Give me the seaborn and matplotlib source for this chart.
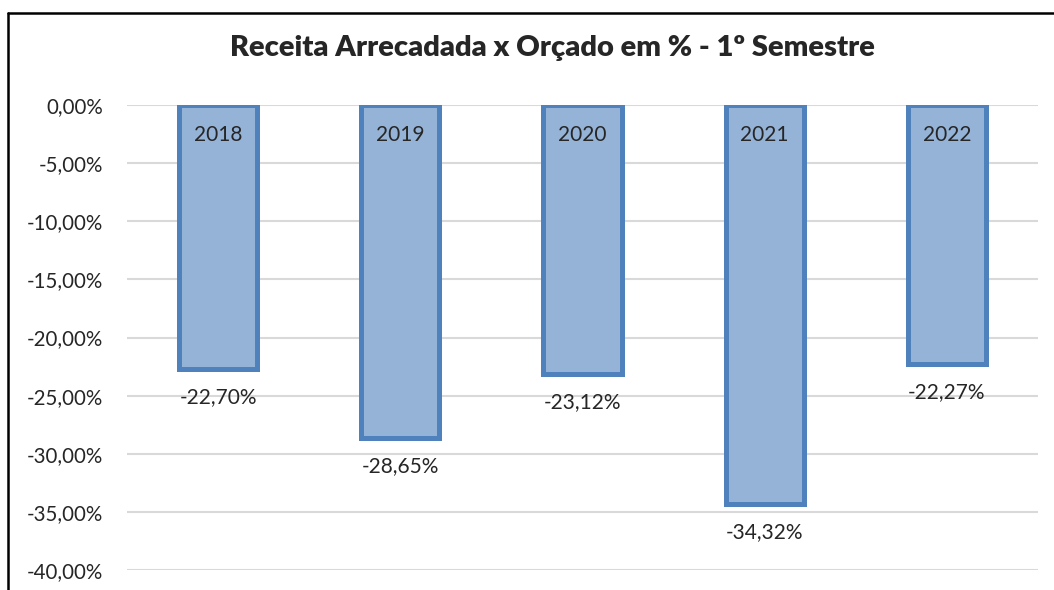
import matplotlib
matplotlib.use("Agg")
import matplotlib.pyplot as plt
import seaborn as sns
import pandas as pd
from matplotlib.lines import Line2D

years = ["2018", "2019", "2020", "2021", "2022"]
values = [-22.70, -28.65, -23.12, -34.32, -22.27]
yticks = [0, -5, -10, -15, -20, -25, -30, -35, -40]
title = "Receita Arrecadada x Orçado em % - 1º Semestre"

sns.set_style("white")
plt.rcParams['font.family'] = ['Lato', 'DejaVu Sans']

df = pd.DataFrame({"ano": years, "valor": values})

fig = plt.figure(figsize=(10.54, 5.90), dpi=100)
ax = fig.add_axes([127/1054, 1-570/590, (1038-127)/1054, (570-105)/590])

sns.barplot(data=df, x="ano", y="valor", ax=ax, color="#95B3D7",
            edgecolor="#4F81BD", linewidth=3.6, width=0.43, saturation=1, zorder=3)

ax.set_ylim(-40, 0)
ax.set_yticks(yticks)
ax.set_yticklabels([f"{t:.2f}".replace(".", ",") + "%" for t in yticks], fontsize=14.8)
ax.tick_params(axis="y", length=0, pad=17)
ax.set_xticks([])
ax.set_xlabel("")
ax.set_ylabel("")
for s in ax.spines.values():
    s.set_visible(False)
ax.grid(axis="y", color="#D9D9D9", linewidth=1.5, zorder=0)
ax.set_axisbelow(True)
ax.set_clip_on(False)

for p, yr, v in zip(ax.patches, years, values):
    cx = p.get_x() + p.get_width() / 2
    ax.text(cx, -2.6, yr, ha="center", va="center", fontsize=15, zorder=5)
    ax.text(cx, v - 2.4, f"{v:.2f}".replace(".", ",") + "%", ha="center", va="center",
            fontsize=15, zorder=5, clip_on=False)

fig.text(552/1054, 1-48/590, title, ha="center", va="center", fontsize=21, fontweight="heavy")

fig.add_artist(Line2D([8/1054, 8/1054], [0, 1-13/590], color="black", linewidth=1.8, transform=fig.transFigure))
fig.add_artist(Line2D([8/1054, 1], [1-13/590, 1-13/590], color="black", linewidth=1.8, transform=fig.transFigure))

fig.savefig("out.png", dpi=100)
